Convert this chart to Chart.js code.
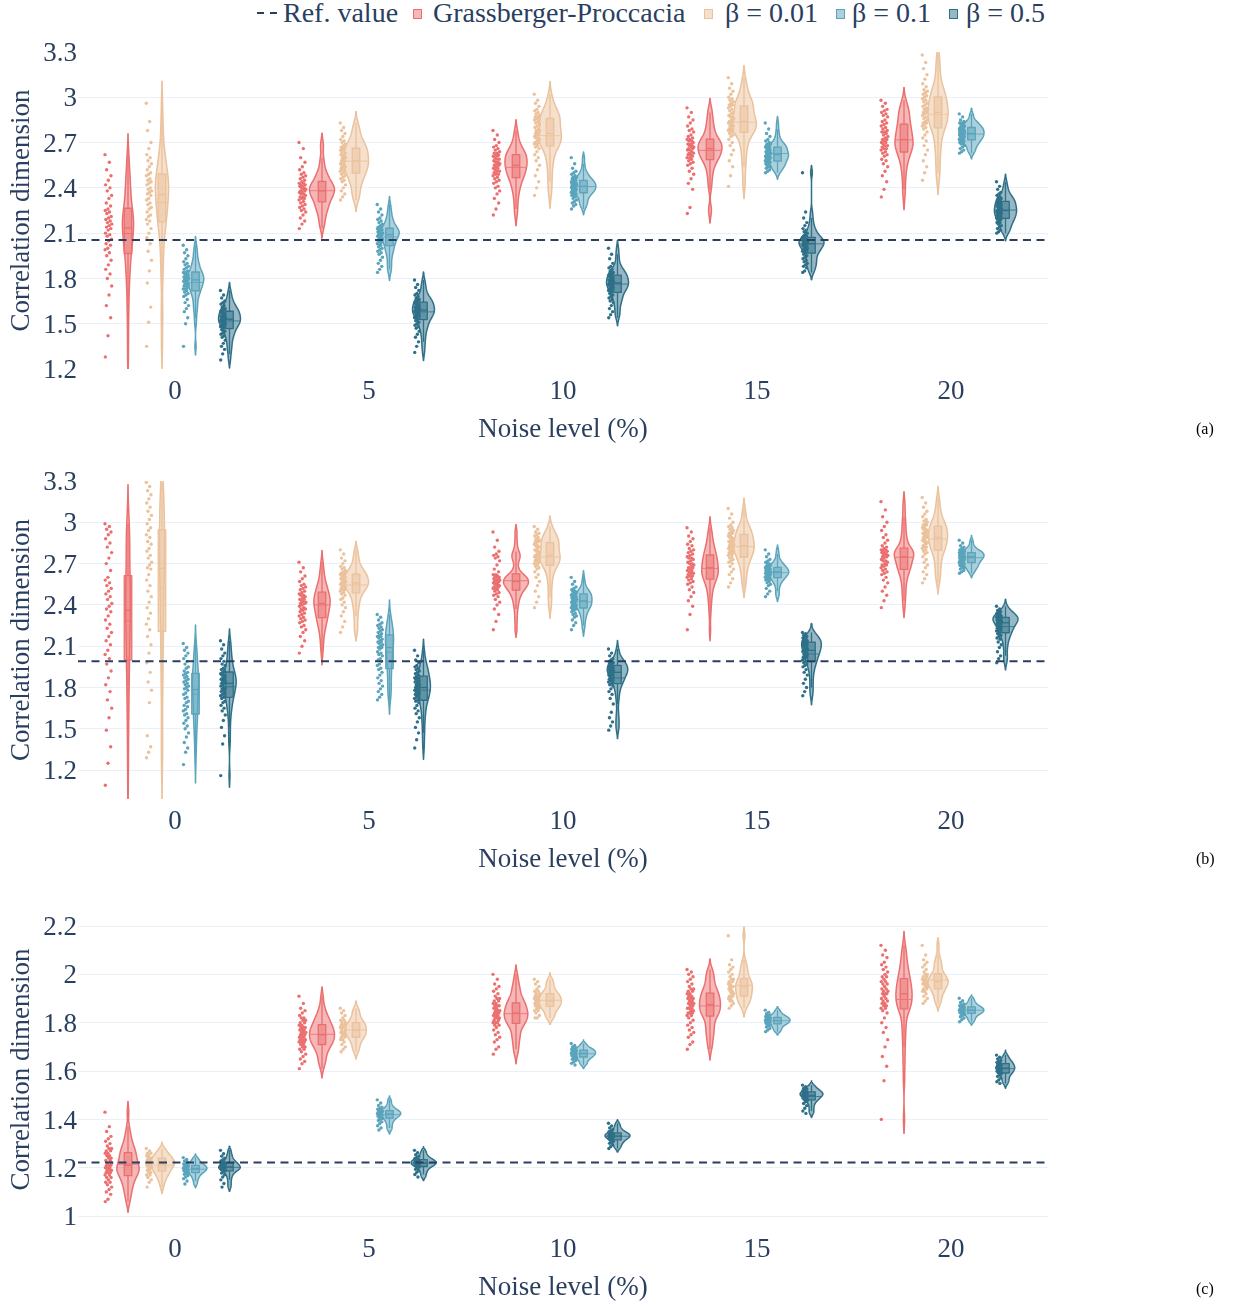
<!DOCTYPE html>
<html>
<head>
<meta charset="utf-8">
<script src="https://cdn.jsdelivr.net/npm/chart.js@4.4.0/dist/chart.umd.min.js"></script>
<style>
  html, body { margin: 0; padding: 0; background: #fff; }
  body { width: 1234px; height: 1306px; position: relative; overflow: hidden; font-family: 'Liberation Serif', serif; }
  .panel { position: absolute; left: 0; }
  .legend-item { position: absolute; top: -1px; height: 28px; line-height: 28px; font-size: 28px; color: #2a3f5f; white-space: nowrap; }
  .legend-swatch { position: absolute; top: 9px; width: 7px; height: 8px; border: 1.5px solid; }
  .tag { position: absolute; left: 1196px; font-size: 16px; color: #000; font-family: 'Liberation Serif', serif; }
</style>
</head>
<body>
<div id="legend"></div>
<div class="panel" style="top:0px"><canvas id="chartA" width="1234" height="446"></canvas></div>
<div class="panel" style="top:443px"><canvas id="chartB" width="1234" height="433"></canvas></div>
<div class="panel" style="top:873px"><canvas id="chartC" width="1234" height="431"></canvas></div>
<div class="tag" style="top:420px">(a)</div>
<div class="tag" style="top:850px">(b)</div>
<div class="tag" style="top:1280px">(c)</div>
<script>
// ---- categories, series and reference values ----
const noiseLevels = ['0', '5', '10', '15', '20'];
const seriesNames = ['Grassberger-Proccacia', 'β = 0.01', 'β = 0.1', 'β = 0.5'];
const seriesColors = ['#EC6F6F', '#EBC29B', '#5AA4BC', '#2E7088'];
const refValueA = 2.055;
const refValueB = 1.99;
const refValueC = 1.222;
const yTicksA = [1.2, 1.5, 1.8, 2.1, 2.4, 2.7, 3.0, 3.3];
const yTicksB = [1.2, 1.5, 1.8, 2.1, 2.4, 2.7, 3.0, 3.3];
const yTicksC = [1.0, 1.2, 1.4, 1.6, 1.8, 2.0, 2.2];

// ---- estimated correlation dimensions, one list per noise level ----
// panel (a)
const aGP = [
  [2.62,2.57,2.52,2.48,2.45,2.42,2.40,2.38,2.35,2.33,2.30,2.28, 2.26,2.25,2.24,2.23,2.21,2.20,2.19,2.18,2.17,2.16,2.15,2.14, 2.13,2.12,2.10,2.09,2.08,2.06,2.05,2.03,2.02,2.00,1.99,1.97, 1.95,1.92,1.89,1.86,1.83,1.80,1.75,1.69,1.62,1.54,1.42,1.28],
  [2.70,2.66,2.60,2.57,2.54,2.52,2.50,2.49,2.48,2.47,2.46,2.45, 2.44,2.43,2.43,2.42,2.42,2.41,2.41,2.40,2.40,2.39,2.39,2.38, 2.38,2.37,2.37,2.36,2.36,2.35,2.34,2.34,2.33,2.33,2.32,2.31, 2.30,2.29,2.28,2.27,2.26,2.25,2.24,2.22,2.20,2.18,2.16,2.13],
  [2.78,2.75,2.72,2.70,2.68,2.67,2.66,2.65,2.64,2.63,2.63,2.62, 2.62,2.61,2.61,2.60,2.59,2.59,2.58,2.57,2.57,2.56,2.56,2.55, 2.55,2.54,2.53,2.53,2.52,2.51,2.51,2.50,2.49,2.49,2.48,2.47, 2.46,2.45,2.44,2.43,2.41,2.40,2.38,2.36,2.33,2.30,2.26,2.22],
  [2.93,2.90,2.87,2.85,2.83,2.81,2.79,2.78,2.77,2.75,2.74,2.73, 2.72,2.72,2.71,2.71,2.70,2.69,2.69,2.68,2.68,2.67,2.67,2.66, 2.66,2.65,2.65,2.64,2.63,2.63,2.62,2.62,2.61,2.60,2.60,2.59, 2.58,2.57,2.56,2.55,2.53,2.51,2.49,2.46,2.43,2.39,2.27,2.23],
  [2.98,2.96,2.94,2.92,2.91,2.90,2.89,2.88,2.87,2.85,2.84,2.83, 2.82,2.81,2.80,2.79,2.78,2.77,2.77,2.76,2.75,2.74,2.73,2.72, 2.72,2.71,2.70,2.70,2.69,2.68,2.68,2.67,2.66,2.66,2.65,2.64, 2.63,2.62,2.61,2.59,2.58,2.56,2.54,2.51,2.48,2.44,2.39,2.34]
];
const aB001 = [
  [2.96,2.84,2.78,2.70,2.66,2.62,2.60,2.58,2.56,2.54,2.52,2.50, 2.49,2.48,2.46,2.45,2.44,2.43,2.42,2.40,2.39,2.38,2.37,2.36, 2.35,2.33,2.32,2.30,2.29,2.27,2.26,2.24,2.22,2.21,2.19,2.18, 2.16,2.13,2.10,2.07,2.03,1.98,1.92,1.85,1.77,1.61,1.51,1.35],
  [2.83,2.80,2.78,2.76,2.74,2.72,2.71,2.70,2.69,2.68,2.67,2.67, 2.66,2.65,2.65,2.64,2.63,2.62,2.62,2.61,2.60,2.60,2.59,2.58, 2.58,2.57,2.56,2.56,2.55,2.54,2.54,2.53,2.52,2.52,2.51,2.50, 2.49,2.48,2.47,2.46,2.45,2.44,2.42,2.40,2.38,2.36,2.34,2.32],
  [3.02,2.98,2.96,2.94,2.92,2.91,2.90,2.89,2.88,2.87,2.87,2.86, 2.86,2.85,2.84,2.83,2.82,2.81,2.80,2.79,2.78,2.78,2.77,2.76, 2.76,2.75,2.74,2.73,2.73,2.72,2.71,2.70,2.70,2.69,2.69,2.68, 2.67,2.66,2.64,2.62,2.60,2.58,2.55,2.52,2.48,2.44,2.40,2.35],
  [3.13,3.09,3.06,3.04,3.02,3.00,2.99,2.98,2.97,2.96,2.95,2.95, 2.94,2.93,2.92,2.91,2.90,2.89,2.88,2.87,2.87,2.86,2.85,2.84, 2.84,2.83,2.83,2.82,2.81,2.81,2.80,2.79,2.79,2.78,2.78,2.77, 2.76,2.75,2.74,2.72,2.70,2.68,2.65,2.62,2.58,2.54,2.48,2.41],
  [3.28,3.23,3.19,3.15,3.12,3.09,3.07,3.05,3.04,3.03,3.02,3.01, 3.00,2.99,2.98,2.97,2.96,2.95,2.94,2.93,2.92,2.92,2.91,2.90, 2.90,2.89,2.88,2.87,2.86,2.85,2.84,2.83,2.83,2.82,2.81,2.80, 2.79,2.77,2.75,2.73,2.71,2.68,2.65,2.62,2.58,2.54,2.50,2.45]
];
const aB01 = [
  [2.02,1.99,1.97,1.95,1.93,1.91,1.90,1.89,1.88,1.87,1.86,1.85, 1.84,1.84,1.83,1.83,1.82,1.82,1.81,1.81,1.80,1.80,1.79,1.79, 1.79,1.78,1.78,1.77,1.76,1.76,1.75,1.75,1.74,1.73,1.73,1.72, 1.71,1.70,1.69,1.68,1.66,1.64,1.62,1.60,1.58,1.54,1.50,1.35],
  [2.29,2.26,2.24,2.22,2.20,2.19,2.18,2.17,2.16,2.15,2.14,2.14, 2.13,2.13,2.12,2.12,2.12,2.11,2.11,2.10,2.10,2.10,2.09,2.09, 2.09,2.08,2.08,2.07,2.07,2.06,2.05,2.05,2.04,2.03,2.03,2.02, 2.01,2.00,1.99,1.98,1.97,1.96,1.94,1.92,1.90,1.88,1.86,1.84],
  [2.60,2.56,2.53,2.51,2.50,2.49,2.48,2.47,2.47,2.46,2.46,2.45, 2.45,2.44,2.44,2.44,2.43,2.43,2.43,2.42,2.42,2.42,2.41,2.41, 2.41,2.40,2.40,2.40,2.39,2.39,2.39,2.38,2.38,2.38,2.37,2.37, 2.36,2.36,2.35,2.35,2.34,2.33,2.32,2.31,2.30,2.29,2.28,2.26],
  [2.83,2.79,2.76,2.74,2.72,2.71,2.70,2.69,2.69,2.68,2.68,2.67, 2.67,2.67,2.66,2.66,2.65,2.65,2.64,2.64,2.64,2.63,2.63,2.62, 2.62,2.62,2.61,2.61,2.61,2.60,2.60,2.60,2.59,2.59,2.58,2.58, 2.57,2.57,2.56,2.56,2.55,2.55,2.54,2.54,2.53,2.52,2.51,2.50],
  [2.89,2.87,2.85,2.84,2.83,2.83,2.82,2.82,2.81,2.81,2.80,2.80, 2.80,2.79,2.79,2.79,2.78,2.78,2.78,2.77,2.77,2.77,2.76,2.76, 2.76,2.75,2.75,2.75,2.74,2.74,2.74,2.73,2.73,2.73,2.72,2.72, 2.71,2.71,2.70,2.70,2.69,2.69,2.68,2.67,2.66,2.65,2.64,2.63]
];
const aB05 = [
  [1.72,1.69,1.67,1.65,1.64,1.63,1.62,1.61,1.60,1.60,1.59,1.59, 1.58,1.58,1.57,1.57,1.56,1.56,1.55,1.55,1.54,1.54,1.53,1.53, 1.53,1.52,1.52,1.51,1.51,1.50,1.50,1.49,1.49,1.48,1.48,1.47, 1.46,1.45,1.44,1.43,1.42,1.41,1.39,1.37,1.35,1.33,1.30,1.26],
  [1.79,1.76,1.74,1.72,1.70,1.69,1.68,1.67,1.66,1.66,1.65,1.65, 1.64,1.64,1.63,1.63,1.62,1.62,1.61,1.61,1.60,1.60,1.59,1.59, 1.59,1.58,1.58,1.57,1.57,1.56,1.56,1.55,1.55,1.54,1.54,1.53, 1.52,1.51,1.50,1.49,1.48,1.47,1.45,1.43,1.41,1.38,1.35,1.31],
  [2.00,1.96,1.93,1.90,1.88,1.87,1.86,1.85,1.84,1.84,1.83,1.83, 1.82,1.82,1.81,1.81,1.80,1.80,1.79,1.79,1.78,1.78,1.77,1.77, 1.77,1.76,1.76,1.75,1.75,1.74,1.74,1.73,1.73,1.72,1.72,1.71, 1.70,1.69,1.68,1.67,1.66,1.65,1.64,1.62,1.60,1.58,1.56,1.54],
  [2.50,2.24,2.20,2.17,2.15,2.13,2.12,2.11,2.10,2.09,2.08,2.08, 2.07,2.07,2.06,2.06,2.05,2.05,2.05,2.04,2.04,2.04,2.03,2.03, 2.03,2.02,2.02,2.01,2.01,2.00,2.00,1.99,1.99,1.98,1.98,1.97, 1.96,1.95,1.94,1.93,1.92,1.91,1.90,1.89,1.88,1.87,1.85,1.84],
  [2.44,2.41,2.39,2.37,2.36,2.35,2.34,2.33,2.33,2.32,2.32,2.31, 2.31,2.30,2.30,2.29,2.29,2.28,2.28,2.27,2.27,2.26,2.26,2.25, 2.25,2.25,2.24,2.24,2.23,2.23,2.22,2.22,2.21,2.21,2.20,2.20, 2.19,2.19,2.18,2.17,2.17,2.16,2.15,2.14,2.13,2.12,2.11,2.10]
];
// panel (b)
const bGP = [
  [2.99,2.97,2.95,2.93,2.91,2.88,2.85,2.82,2.78,2.74,2.70,2.65, 2.60,2.58,2.56,2.54,2.52,2.50,2.48,2.46,2.44,2.41,2.39,2.37, 2.35,2.32,2.29,2.26,2.23,2.20,2.17,2.14,2.11,2.07,2.04,2.01, 1.97,1.92,1.87,1.82,1.77,1.71,1.65,1.58,1.49,1.37,1.25,1.09],
  [2.71,2.67,2.64,2.61,2.59,2.57,2.55,2.54,2.53,2.52,2.51,2.50, 2.49,2.48,2.47,2.47,2.46,2.45,2.44,2.44,2.43,2.42,2.42,2.41, 2.41,2.40,2.39,2.38,2.37,2.37,2.36,2.35,2.34,2.33,2.32,2.31, 2.30,2.29,2.28,2.27,2.25,2.24,2.22,2.20,2.17,2.14,2.10,2.05],
  [2.93,2.87,2.82,2.79,2.77,2.76,2.75,2.74,2.72,2.69,2.66,2.64, 2.62,2.62,2.61,2.61,2.60,2.60,2.59,2.59,2.58,2.58,2.57,2.57, 2.57,2.56,2.56,2.55,2.55,2.54,2.54,2.53,2.53,2.52,2.52,2.51, 2.50,2.49,2.48,2.47,2.46,2.44,2.42,2.40,2.37,2.33,2.28,2.22],
  [2.96,2.93,2.90,2.88,2.86,2.84,2.83,2.81,2.80,2.79,2.78,2.77, 2.76,2.75,2.74,2.74,2.73,2.72,2.71,2.70,2.70,2.69,2.68,2.67, 2.67,2.66,2.65,2.65,2.64,2.63,2.63,2.62,2.61,2.61,2.60,2.59, 2.58,2.57,2.56,2.55,2.53,2.51,2.49,2.46,2.43,2.39,2.33,2.22],
  [3.15,3.09,3.04,3.00,2.97,2.94,2.91,2.89,2.87,2.85,2.83,2.82, 2.81,2.80,2.80,2.79,2.79,2.78,2.78,2.77,2.77,2.76,2.76,2.75, 2.75,2.74,2.73,2.72,2.72,2.71,2.70,2.69,2.69,2.68,2.67,2.66, 2.65,2.64,2.63,2.62,2.60,2.58,2.56,2.53,2.50,2.47,2.43,2.38]
];
const bB001 = [
  [3.29,3.26,3.23,3.20,3.17,3.14,3.11,3.08,3.05,3.02,2.99,2.96, 2.94,2.91,2.89,2.86,2.84,2.81,2.79,2.76,2.74,2.71,2.69,2.67, 2.66,2.62,2.58,2.54,2.50,2.46,2.42,2.38,2.34,2.30,2.26,2.22, 2.17,2.11,2.05,1.98,1.91,1.84,1.78,1.69,1.45,1.37,1.33,1.29],
  [2.80,2.77,2.74,2.72,2.70,2.68,2.67,2.66,2.65,2.64,2.63,2.63, 2.62,2.62,2.61,2.61,2.60,2.59,2.59,2.58,2.58,2.57,2.57,2.56, 2.56,2.55,2.55,2.54,2.54,2.53,2.53,2.52,2.51,2.51,2.50,2.49, 2.48,2.47,2.45,2.44,2.42,2.40,2.38,2.35,2.32,2.28,2.24,2.20],
  [2.97,2.95,2.93,2.92,2.91,2.90,2.89,2.88,2.87,2.87,2.86,2.86, 2.85,2.84,2.83,2.83,2.82,2.81,2.80,2.79,2.79,2.78,2.77,2.76, 2.76,2.75,2.75,2.74,2.73,2.73,2.72,2.72,2.71,2.70,2.70,2.69, 2.68,2.67,2.66,2.64,2.62,2.60,2.57,2.54,2.50,2.46,2.42,2.38],
  [3.10,3.06,3.03,3.00,2.98,2.97,2.96,2.95,2.94,2.93,2.92,2.92, 2.91,2.90,2.89,2.89,2.88,2.87,2.86,2.86,2.85,2.84,2.84,2.83, 2.83,2.82,2.81,2.81,2.80,2.79,2.79,2.78,2.77,2.77,2.76,2.75, 2.74,2.73,2.72,2.71,2.70,2.68,2.66,2.64,2.62,2.59,2.56,2.53],
  [3.18,3.14,3.11,3.08,3.06,3.04,3.02,3.01,3.00,2.99,2.98,2.98, 2.97,2.96,2.95,2.95,2.94,2.93,2.92,2.92,2.91,2.90,2.90,2.89, 2.89,2.88,2.87,2.86,2.86,2.85,2.84,2.83,2.82,2.82,2.81,2.80, 2.79,2.78,2.77,2.75,2.73,2.71,2.69,2.67,2.64,2.62,2.59,2.56]
];
const bB01 = [
  [2.12,2.09,2.07,2.05,2.03,2.01,1.99,1.97,1.95,1.94,1.92,1.91, 1.90,1.89,1.88,1.87,1.86,1.85,1.84,1.83,1.82,1.81,1.80,1.79, 1.78,1.76,1.75,1.73,1.72,1.70,1.69,1.67,1.66,1.64,1.63,1.61, 1.60,1.58,1.56,1.54,1.52,1.50,1.47,1.44,1.40,1.36,1.33,1.24],
  [2.33,2.31,2.29,2.27,2.26,2.25,2.24,2.23,2.22,2.21,2.20,2.19, 2.18,2.17,2.17,2.16,2.15,2.14,2.13,2.13,2.12,2.11,2.10,2.09, 2.09,2.08,2.06,2.05,2.04,2.03,2.01,2.00,1.99,1.97,1.96,1.94, 1.93,1.91,1.89,1.87,1.85,1.83,1.81,1.79,1.77,1.75,1.73,1.71],
  [2.60,2.57,2.55,2.53,2.52,2.51,2.50,2.50,2.49,2.49,2.48,2.48, 2.48,2.47,2.47,2.46,2.46,2.45,2.45,2.45,2.44,2.44,2.43,2.43, 2.43,2.42,2.42,2.41,2.41,2.40,2.40,2.40,2.39,2.39,2.38,2.38, 2.37,2.37,2.36,2.35,2.34,2.33,2.32,2.31,2.29,2.27,2.25,2.22],
  [2.80,2.77,2.75,2.73,2.72,2.71,2.70,2.70,2.69,2.69,2.68,2.68, 2.67,2.67,2.67,2.66,2.66,2.66,2.65,2.65,2.65,2.64,2.64,2.64, 2.64,2.63,2.63,2.63,2.62,2.62,2.62,2.61,2.61,2.61,2.60,2.60, 2.59,2.59,2.58,2.58,2.57,2.56,2.55,2.54,2.52,2.50,2.48,2.46],
  [2.87,2.85,2.83,2.82,2.81,2.80,2.80,2.79,2.79,2.79,2.78,2.78, 2.78,2.78,2.77,2.77,2.77,2.76,2.76,2.76,2.76,2.75,2.75,2.75, 2.75,2.74,2.74,2.74,2.73,2.73,2.73,2.72,2.72,2.72,2.71,2.71, 2.70,2.70,2.69,2.69,2.68,2.68,2.67,2.67,2.66,2.65,2.64,2.63]
];
const bB05 = [
  [2.14,2.11,2.08,2.05,2.03,2.01,1.99,1.97,1.96,1.94,1.93,1.92, 1.91,1.90,1.89,1.89,1.88,1.87,1.86,1.86,1.85,1.84,1.84,1.83, 1.83,1.82,1.81,1.80,1.79,1.79,1.78,1.77,1.76,1.75,1.74,1.73, 1.72,1.70,1.69,1.67,1.65,1.63,1.60,1.56,1.51,1.45,1.39,1.16],
  [2.07,2.03,2.00,1.98,1.96,1.95,1.94,1.93,1.92,1.91,1.90,1.89, 1.88,1.87,1.87,1.86,1.85,1.84,1.84,1.83,1.82,1.82,1.81,1.80, 1.80,1.79,1.78,1.78,1.77,1.76,1.75,1.75,1.74,1.73,1.72,1.71, 1.70,1.69,1.67,1.65,1.63,1.61,1.58,1.55,1.51,1.47,1.42,1.36],
  [2.08,2.05,2.03,2.01,2.00,1.99,1.99,1.98,1.98,1.97,1.97,1.96, 1.96,1.95,1.95,1.94,1.94,1.93,1.93,1.92,1.92,1.92,1.91,1.91, 1.91,1.90,1.89,1.89,1.88,1.87,1.87,1.86,1.85,1.85,1.84,1.83, 1.82,1.81,1.79,1.77,1.75,1.72,1.68,1.62,1.58,1.55,1.52,1.49],
  [2.20,2.19,2.18,2.17,2.16,2.16,2.15,2.15,2.14,2.14,2.14,2.13, 2.13,2.12,2.12,2.11,2.11,2.10,2.10,2.09,2.09,2.08,2.08,2.07, 2.07,2.06,2.06,2.05,2.04,2.04,2.03,2.02,2.02,2.01,2.00,1.99, 1.98,1.97,1.96,1.95,1.93,1.91,1.89,1.86,1.83,1.80,1.77,1.74],
  [2.39,2.37,2.36,2.35,2.34,2.34,2.33,2.33,2.32,2.32,2.32,2.31, 2.31,2.31,2.30,2.30,2.30,2.29,2.29,2.28,2.28,2.28,2.27,2.27, 2.27,2.26,2.26,2.25,2.24,2.24,2.23,2.23,2.22,2.21,2.21,2.20, 2.19,2.18,2.17,2.16,2.15,2.13,2.11,2.09,2.06,2.03,2.01,1.98]
];
// panel (c)
const cGP = [
  [1.43,1.37,1.35,1.33,1.32,1.31,1.30,1.29,1.28,1.28,1.27,1.27, 1.26,1.26,1.25,1.25,1.24,1.24,1.23,1.23,1.22,1.22,1.21,1.21, 1.21,1.20,1.20,1.20,1.19,1.19,1.19,1.18,1.18,1.18,1.17,1.17, 1.16,1.16,1.15,1.14,1.14,1.13,1.12,1.11,1.10,1.09,1.07,1.06],
  [1.91,1.88,1.86,1.85,1.84,1.83,1.82,1.82,1.81,1.81,1.80,1.80, 1.79,1.79,1.78,1.78,1.78,1.77,1.77,1.77,1.76,1.76,1.76,1.75, 1.75,1.75,1.74,1.74,1.74,1.73,1.73,1.73,1.72,1.72,1.72,1.71, 1.71,1.70,1.70,1.69,1.69,1.68,1.67,1.66,1.65,1.64,1.63,1.61],
  [2.00,1.98,1.96,1.95,1.94,1.93,1.92,1.91,1.90,1.90,1.89,1.89, 1.88,1.88,1.87,1.87,1.87,1.86,1.86,1.85,1.85,1.85,1.84,1.84, 1.84,1.83,1.83,1.83,1.82,1.82,1.82,1.81,1.81,1.80,1.80,1.80, 1.79,1.79,1.78,1.77,1.76,1.75,1.74,1.73,1.72,1.70,1.69,1.67],
  [2.02,2.01,2.00,1.99,1.98,1.97,1.96,1.95,1.94,1.94,1.93,1.93, 1.92,1.92,1.91,1.91,1.90,1.90,1.90,1.89,1.89,1.88,1.88,1.88, 1.87,1.87,1.86,1.86,1.86,1.85,1.85,1.84,1.84,1.84,1.83,1.83, 1.82,1.81,1.80,1.79,1.78,1.77,1.76,1.75,1.74,1.72,1.71,1.69],
  [2.12,2.10,2.08,2.07,2.05,2.04,2.03,2.02,2.01,2.00,1.99,1.99, 1.98,1.97,1.97,1.96,1.96,1.95,1.94,1.94,1.93,1.93,1.92,1.92, 1.92,1.91,1.90,1.90,1.89,1.89,1.88,1.88,1.87,1.87,1.86,1.86, 1.85,1.84,1.82,1.80,1.78,1.76,1.73,1.70,1.66,1.62,1.56,1.40]
];
const cB001 = [
  [1.28,1.27,1.26,1.26,1.25,1.25,1.24,1.24, 1.24,1.23,1.23,1.23,1.22,1.22,1.22,1.22, 1.21,1.21,1.21,1.20,1.20,1.20,1.19,1.19, 1.18,1.18,1.17,1.17,1.16,1.15,1.14,1.12],
  [1.86,1.85,1.84,1.83,1.82,1.81,1.81,1.80, 1.80,1.79,1.79,1.79,1.78,1.78,1.78,1.77, 1.77,1.76,1.76,1.76,1.75,1.75,1.75,1.74, 1.74,1.73,1.73,1.72,1.71,1.70,1.69,1.68],
  [1.98,1.97,1.96,1.95,1.94,1.93,1.93,1.92, 1.92,1.91,1.91,1.91,1.90,1.90,1.90,1.89, 1.89,1.89,1.88,1.88,1.88,1.87,1.87,1.87, 1.86,1.86,1.85,1.85,1.84,1.83,1.82,1.82],
  [2.16,2.06,2.04,2.03,2.02,2.01,2.00,1.99, 1.98,1.98,1.97,1.97,1.96,1.96,1.95,1.95, 1.95,1.94,1.94,1.93,1.93,1.92,1.92,1.91, 1.91,1.90,1.90,1.89,1.89,1.88,1.87,1.86],
  [2.12,2.08,2.06,2.05,2.04,2.03,2.02,2.01, 2.00,2.00,1.99,1.99,1.98,1.98,1.98,1.97, 1.97,1.97,1.96,1.96,1.96,1.95,1.95,1.94, 1.94,1.93,1.93,1.92,1.91,1.90,1.89,1.88]
];
const cB01 = [
  [1.242,1.234,1.228,1.223,1.219,1.216,1.213,1.210,1.208,1.206,1.204,1.202,1.200,1.198,1.196,1.194,1.192,1.190,1.188,1.186,1.183,1.180,1.177,1.173,1.168,1.162,1.155,1.145,1.133],
  [1.481,1.468,1.458,1.451,1.446,1.442,1.439,1.436,1.434,1.432,1.430,1.428,1.426,1.424,1.422,1.420,1.418,1.416,1.414,1.411,1.408,1.405,1.401,1.396,1.390,1.383,1.374,1.365,1.356],
  [1.714,1.706,1.700,1.696,1.693,1.690,1.688,1.686,1.684,1.682,1.680,1.678,1.676,1.674,1.672,1.670,1.668,1.666,1.664,1.661,1.659,1.656,1.653,1.649,1.644,1.638,1.632,1.625],
  [1.852,1.843,1.837,1.832,1.829,1.826,1.823,1.821,1.819,1.817,1.815,1.813,1.811,1.809,1.807,1.805,1.803,1.801,1.799,1.797,1.794,1.791,1.787,1.782,1.776,1.770,1.763],
  [1.901,1.891,1.884,1.878,1.874,1.870,1.867,1.864,1.862,1.860,1.858,1.856,1.854,1.852,1.850,1.848,1.846,1.844,1.842,1.840,1.837,1.834,1.830,1.825,1.819,1.812,1.804]
];
const cB05 = [
  [1.272,1.258,1.248,1.240,1.233,1.228,1.224,1.221,1.218,1.215,1.212,1.210,1.207,1.205,1.203,1.201,1.199,1.197,1.195,1.193,1.190,1.187,1.183,1.178,1.171,1.162,1.150,1.135,1.120],
  [1.272,1.262,1.254,1.248,1.243,1.239,1.236,1.233,1.231,1.229,1.227,1.225,1.223,1.221,1.219,1.217,1.215,1.213,1.211,1.209,1.206,1.203,1.199,1.194,1.188,1.181,1.172,1.162],
  [1.384,1.373,1.365,1.358,1.353,1.349,1.346,1.343,1.341,1.339,1.337,1.335,1.333,1.331,1.329,1.327,1.325,1.323,1.320,1.317,1.314,1.310,1.306,1.301,1.295,1.288,1.280],
  [1.542,1.535,1.529,1.525,1.522,1.519,1.516,1.513,1.511,1.509,1.507,1.505,1.503,1.501,1.499,1.497,1.494,1.491,1.488,1.485,1.482,1.478,1.473,1.466,1.457,1.446,1.435,1.425],
  [1.666,1.657,1.650,1.644,1.640,1.636,1.633,1.630,1.627,1.624,1.621,1.618,1.615,1.613,1.611,1.608,1.605,1.602,1.599,1.596,1.593,1.589,1.584,1.578,1.571,1.563,1.556,1.549]
];

// ---- layout and style ----
const FONT = "'Liberation Serif', 'Times New Roman', serif";
const TEXT_COLOR = '#2a3f5f';
const GRID_COLOR = '#EBF0F8';
const PLOT_LEFT = 78, PLOT_RIGHT = 1048, CANVAS_W = 1234;
const PX_PER_UNIT = (PLOT_RIGHT - PLOT_LEFT) / noiseLevels.length;
const violinShiftPx = [-47, -13, 20.5, 54.5];   // violin centre relative to category tick
const pointShiftPx = [-19.5, -13, -9.5, -6.5];  // strip of sample points, left of each violin
const jitterPx = [7, 5.5, 5.5, 5];
const VIOLIN_HALF_W = 12.5;
const BOX_HALF_W = 3.75;
const KDE_SMOOTH = 0.75;
const KDE_STEPS = 100;

function rgba(hex, a) {
  const n = parseInt(hex.slice(1), 16);
  return `rgba(${(n >> 16) & 255},${(n >> 8) & 255},${n & 255},${a})`;
}

function quantile(sorted, p) {
  const h = (sorted.length - 1) * p;
  const lo = Math.floor(h), hi = Math.ceil(h);
  return sorted[lo] + (sorted[hi] - sorted[lo]) * (h - lo);
}

// kernel density, quartiles and whiskers of one group of samples
function violinStats(values) {
  const s = values.slice().sort((a, b) => a - b);
  const n = s.length;
  const mean = s.reduce((a, b) => a + b, 0) / n;
  const sd = Math.sqrt(s.reduce((a, b) => a + (b - mean) * (b - mean), 0) / (n - 1));
  const q1 = quantile(s, 0.25), med = quantile(s, 0.5), q3 = quantile(s, 0.75);
  const iqr = q3 - q1;
  const spread = Math.min(sd, iqr / 1.349) || sd;
  const bw = KDE_SMOOTH * 0.9 * spread * Math.pow(n, -0.2);
  const density = v => {
    let d = 0;
    for (const x of s) { const z = (v - x) / bw; d += Math.exp(-0.5 * z * z); }
    return d / (n * bw * Math.sqrt(2 * Math.PI));
  };
  const lo = s[0] - 2 * bw, hi = s[n - 1] + 2 * bw;
  const curve = [];
  for (let k = 0; k <= KDE_STEPS; k++) {
    const v = lo + (hi - lo) * k / KDE_STEPS;
    curve.push({ v, d: density(v) });
  }
  const fLo = q1 - 1.5 * iqr, fHi = q3 + 1.5 * iqr;
  const wLo = s.find(x => x >= fLo);
  const wHi = s.slice().reverse().find(x => x <= fHi);
  return { mean, q1, med, q3, wLo, wHi, curve, meanD: density(mean), peak: Math.max(...curve.map(p => p.d)) };
}

function violinLayer(seriesList) {
  const stats = seriesList.map(groups => groups.map(violinStats));
  const peaks = stats.map(gs => Math.max(...gs.map(g => g.peak)));
  return {
    id: 'violinLayer',
    beforeDatasetsDraw(chart) {
      const { ctx, chartArea: area, scales: { x, y } } = chart;
      ctx.save();
      ctx.beginPath();
      ctx.rect(area.left, area.top, area.right - area.left, area.bottom - area.top);
      ctx.clip();
      stats.forEach((groups, si) => {
        const col = seriesColors[si];
        groups.forEach((g, ci) => {
          const cx = x.getPixelForValue(ci) + violinShiftPx[si];
          const scaleW = VIOLIN_HALF_W / peaks[si];
          // outline
          ctx.beginPath();
          g.curve.forEach((p, k) => {
            const py = y.getPixelForValue(p.v), w = p.d * scaleW;
            if (k === 0) ctx.moveTo(cx + w, py); else ctx.lineTo(cx + w, py);
          });
          for (let k = g.curve.length - 1; k >= 0; k--) {
            const p = g.curve[k];
            ctx.lineTo(cx - p.d * scaleW, y.getPixelForValue(p.v));
          }
          ctx.closePath();
          ctx.fillStyle = rgba(col, 0.5);
          ctx.fill();
          ctx.lineWidth = 1.5;
          ctx.strokeStyle = col;
          ctx.lineJoin = 'round';
          ctx.stroke();
          // whiskers
          ctx.lineWidth = 1.3;
          ctx.beginPath();
          ctx.moveTo(cx, y.getPixelForValue(g.wHi));
          ctx.lineTo(cx, y.getPixelForValue(g.q3));
          ctx.moveTo(cx, y.getPixelForValue(g.q1));
          ctx.lineTo(cx, y.getPixelForValue(g.wLo));
          ctx.stroke();
          // inner box
          const yT = y.getPixelForValue(g.q3), yB = y.getPixelForValue(g.q1);
          ctx.fillStyle = rgba(col, 0.5);
          ctx.fillRect(cx - BOX_HALF_W, yT, 2 * BOX_HALF_W, yB - yT);
          ctx.strokeRect(cx - BOX_HALF_W, yT, 2 * BOX_HALF_W, yB - yT);
          const yM = y.getPixelForValue(g.med);
          ctx.beginPath();
          ctx.moveTo(cx - BOX_HALF_W, yM);
          ctx.lineTo(cx + BOX_HALF_W, yM);
          ctx.stroke();
          // mean line across the violin
          const yMean = y.getPixelForValue(g.mean), wm = g.meanD * scaleW;
          ctx.lineWidth = 1;
          ctx.strokeStyle = rgba(col, 0.8);
          ctx.beginPath();
          ctx.moveTo(cx - wm, yMean);
          ctx.lineTo(cx + wm, yMean);
          ctx.stroke();
        });
      });
      ctx.restore();
    }
  };
}

function pointDataset(groups, si) {
  const data = [];
  groups.forEach((vals, ci) => {
    vals.forEach((v, i) => {
      const jit = (((i * 0.6180339887) % 1) - 0.5) * jitterPx[si];
      data.push({ x: ci + (violinShiftPx[si] + pointShiftPx[si] + jit) / PX_PER_UNIT, y: v });
    });
  });
  return {
    type: 'scatter',
    label: seriesNames[si],
    data,
    pointRadius: 1.7,
    pointBorderWidth: 0,
    pointBackgroundColor: seriesColors[si],
    pointHoverRadius: 1.7
  };
}

function makePanel(canvasId, seriesList, refValue, yTicks, yMin, yMax, padTop) {
  const datasets = [{
    type: 'line',
    label: 'Ref. value',
    data: [{ x: -0.5, y: refValue }, { x: noiseLevels.length - 0.5, y: refValue }],
    borderColor: TEXT_COLOR,
    borderWidth: 2,
    borderDash: [8, 5.5],
    pointRadius: 0,
    fill: false
  }];
  seriesList.forEach((groups, si) => datasets.push(pointDataset(groups, si)));

  const font = { family: FONT, size: 27 };
  return new Chart(document.getElementById(canvasId), {
    type: 'scatter',
    data: { datasets },
    options: {
      responsive: false,
      animation: false,
      layout: { padding: { left: 0, right: CANVAS_W - PLOT_RIGHT, top: padTop, bottom: 0 } },
      plugins: { legend: { display: false }, tooltip: { enabled: false } },
      scales: {
        x: {
          type: 'linear',
          min: -0.5,
          max: noiseLevels.length - 0.5,
          afterBuildTicks: s => { s.ticks = noiseLevels.map((_, i) => ({ value: i })); },
          afterFit: s => { s.height = 77; },
          ticks: { font, color: TEXT_COLOR, padding: 7, autoSkip: false, maxRotation: 0,
                   callback: v => noiseLevels[Math.round(v)] },
          grid: { display: false, drawTicks: false },
          border: { display: false },
          title: { display: true, text: 'Noise level (%)', font, color: TEXT_COLOR, padding: { top: 0, bottom: 0 } }
        },
        y: {
          type: 'linear',
          min: yMin,
          max: yMax,
          afterBuildTicks: s => { s.ticks = yTicks.map(v => ({ value: v })); },
          afterFit: s => { s.width = PLOT_LEFT; },
          ticks: { font, color: TEXT_COLOR, padding: 1, autoSkip: false, labelOffset: 2,
                   callback: v => String(+v.toFixed(2)) },
          grid: {
            drawTicks: false,
            lineWidth: 1,
            color: c => (c.tick && (Math.abs(c.tick.value - yMin) < 1e-9 || Math.abs(c.tick.value - yMax) < 1e-9))
              ? 'rgba(0,0,0,0)' : GRID_COLOR
          },
          border: { display: false },
          title: { display: true, text: 'Correlation dimension', font, color: TEXT_COLOR, padding: { top: 6, bottom: 0 } }
        }
      }
    },
    plugins: [violinLayer(seriesList)]
  });
}

makePanel('chartA', [aGP, aB001, aB01, aB05], refValueA, yTicksA, 1.2, 3.3, 52);
makePanel('chartB', [bGP, bB001, bB01, bB05], refValueB, yTicksB, 0.99, 3.3, 38);
makePanel('chartC', [cGP, cB001, cB01, cB05], refValueC, yTicksC, 0.955, 2.258, 39);

// ---- legend above the first panel ----
const legend = document.getElementById('legend');
const legendTextX = [283, 433, 725, 852, 966];
const legendSwatchX = [413, 704, 836, 949];
{
  const dash = document.createElement('div');
  dash.style.cssText = 'position:absolute;left:257px;top:12px;width:21px;height:2px;' +
    `background:repeating-linear-gradient(90deg, ${TEXT_COLOR} 0 7px, transparent 7px 13px);`;
  legend.appendChild(dash);
  const labels = ['Ref. value', ...seriesNames];
  labels.forEach((t, i) => {
    const d = document.createElement('div');
    d.className = 'legend-item';
    d.style.left = legendTextX[i] + 'px';
    d.textContent = t;
    legend.appendChild(d);
  });
  seriesColors.forEach((c, i) => {
    const sw = document.createElement('div');
    sw.className = 'legend-swatch';
    sw.style.left = legendSwatchX[i] + 'px';
    sw.style.borderColor = c;
    sw.style.background = rgba(c, 0.5);
    legend.appendChild(sw);
  });
}
</script>
</body>
</html>
